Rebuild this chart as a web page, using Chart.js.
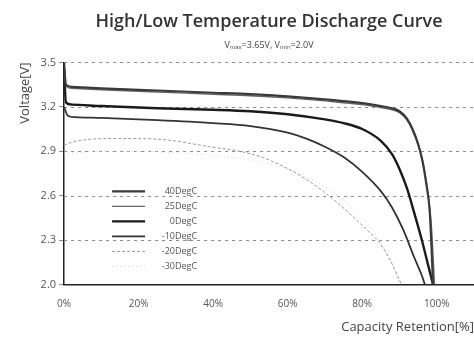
<!DOCTYPE html>
<html>
<head>
<meta charset="utf-8">
<script src="https://cdn.jsdelivr.net/npm/chart.js@4"></script>
<style>
  html, body { margin: 0; padding: 0; background: #fff; }
  #wrap { width: 474px; height: 341px; }
</style>
</head>
<body>
<div id="wrap"><canvas id="grafico"></canvas></div>
<script>
// capacity retention [%] / voltage [V]
const cap40 = [0, 0.5, 2, 10, 25, 40, 50, 60, 70, 80, 85, 88, 90, 92, 93.5, 95, 96.2, 97.2, 98.1, 98.6, 99];
const volt40 = [3.5, 3.35, 3.335, 3.325, 3.31, 3.295, 3.285, 3.27, 3.25, 3.225, 3.205, 3.19, 3.17, 3.12, 3.05, 2.95, 2.83, 2.68, 2.5, 2.25, 2.0];

const cap25 = [0, 0.5, 2, 10, 25, 40, 50, 60, 70, 80, 85, 88, 90, 92, 93.5, 95, 96.5, 97.6, 98.5, 99, 99.4];
const volt25 = [3.48, 3.34, 3.325, 3.315, 3.3, 3.285, 3.275, 3.26, 3.24, 3.215, 3.195, 3.18, 3.16, 3.11, 3.04, 2.94, 2.8, 2.62, 2.42, 2.2, 2.0];

const cap0 = [0, 0.5, 2, 10, 25, 40, 50, 60, 70, 75, 80, 85, 88, 90, 92, 94, 96, 97.5, 98.5, 99];
const volt0 = [3.45, 3.23, 3.215, 3.205, 3.19, 3.18, 3.17, 3.15, 3.115, 3.09, 3.05, 2.97, 2.88, 2.78, 2.65, 2.48, 2.3, 2.15, 2.05, 2.0];

const capM10 = [0, 1, 3, 10, 25, 40, 50, 60, 65, 70, 75, 80, 85, 88, 91, 94, 96, 96.8];
const voltM10 = [3.2, 3.14, 3.13, 3.125, 3.11, 3.09, 3.07, 3.025, 2.985, 2.93, 2.86, 2.76, 2.63, 2.52, 2.37, 2.18, 2.06, 2.0];

const capM20 = [0, 2, 5, 12, 20, 28, 39, 47, 53, 58.6, 65, 71, 77, 82, 85, 88, 90.5];
const voltM20 = [2.94, 2.96, 2.975, 2.985, 2.985, 2.975, 2.93, 2.9, 2.86, 2.8, 2.71, 2.6, 2.47, 2.35, 2.27, 2.14, 2.0];

const capM30 = [0, 10, 25, 40, 50, 60, 70, 78, 84, 88.5, 90];
const voltM30 = [2.88, 2.9, 2.895, 2.87, 2.84, 2.78, 2.66, 2.5, 2.32, 2.1, 2.0];

const seriesLabels = ['40DegC', '25DegC', '0DegC', '-10DegC', '-20DegC', '-30DegC'];
const voltTicks = [2.0, 2.3, 2.6, 2.9, 3.2, 3.5];
const capTicks = [0, 20, 40, 60, 80, 100];

const toPoints = (xs, ys) => xs.map((x, i) => ({ x: x, y: ys[i] }));

const fontFam = "'Open Sans', 'Noto Sans', sans-serif";

// dashed horizontal grid at each voltage tick
const dashedGrid = {
  id: 'dashedGrid',
  beforeDatasetsDraw(chart) {
    const c = chart.ctx;
    const a = chart.chartArea;
    const yScale = chart.scales.y;
    c.save();
    c.strokeStyle = '#8a8a8a';
    c.lineWidth = 1;
    c.setLineDash([3, 4]);
    voltTicks.forEach(v => {
      if (v === yScale.min) return;
      const y = Math.round(yScale.getPixelForValue(v)) + 0.5;
      c.beginPath();
      c.moveTo(a.left, y);
      c.lineTo(a.right, y);
      c.stroke();
    });
    c.restore();
  }
};

// legend drawn inside the plot, like the original
const innerLegend = {
  id: 'innerLegend',
  afterDraw(chart) {
    const c = chart.ctx;
    const a = chart.chartArea;
    const x0 = a.left + 48;
    const y0 = a.top + 129;
    c.save();
    c.font = "9px " + fontFam;
    c.textAlign = 'right';
    c.textBaseline = 'middle';
    chart.data.datasets.forEach((ds, i) => {
      const y = y0 + i * 15;
      c.beginPath();
      c.strokeStyle = ds.borderColor;
      c.lineWidth = ds.borderWidth;
      c.setLineDash(ds.borderDash || []);
      c.moveTo(x0, y);
      c.lineTo(x0 + 33, y);
      c.stroke();
      c.setLineDash([]);
      c.fillStyle = '#555';
      c.fillText(ds.label, x0 + 85, y);
    });
    c.restore();
  }
};

const ctxGrafico = document.getElementById('grafico').getContext('2d');
new Chart(ctxGrafico, {
  type: 'line',
  data: {
    datasets: [
      { label: seriesLabels[0], data: toPoints(cap40, volt40), borderColor: '#3a3a3a', borderWidth: 2.2 },
      { label: seriesLabels[1], data: toPoints(cap25, volt25), borderColor: '#666', borderWidth: 1.4 },
      { label: seriesLabels[2], data: toPoints(cap0, volt0), borderColor: '#1a1a1a', borderWidth: 2.4 },
      { label: seriesLabels[3], data: toPoints(capM10, voltM10), borderColor: '#333', borderWidth: 1.8 },
      { label: seriesLabels[4], data: toPoints(capM20, voltM20), borderColor: '#999', borderWidth: 1, borderDash: [3, 2] },
      { label: seriesLabels[5], data: toPoints(capM30, voltM30), borderColor: '#d0d0d0', borderWidth: 1, borderDash: [1, 3] }
    ]
  },
  options: {
    responsive: true,
    maintainAspectRatio: false,
    animation: false,
    layout: { padding: { left: 17, right: 0, top: 0, bottom: 6 } },
    elements: {
      point: { radius: 0 },
      line: { cubicInterpolationMode: 'monotone' }
    },
    plugins: {
      legend: { display: false },
      tooltip: { enabled: false },
      title: {
        display: true,
        fullSize: false,
        text: 'High/Low Temperature Discharge Curve',
        color: '#333',
        font: { family: fontFam, size: 18, weight: '600' },
        padding: { top: 11, bottom: 7 }
      },
      subtitle: {
        display: true,
        fullSize: false,
        text: 'Vₘₐₓ=3.65V, Vₘᵢₙ=2.0V',
        color: '#444',
        font: { family: fontFam, size: 9 },
        padding: { top: 0, bottom: 12 }
      }
    },
    scales: {
      x: {
        type: 'linear',
        min: 0,
        max: 110,
        afterBuildTicks: (axis) => { axis.ticks = capTicks.map(v => ({ value: v })); },
        ticks: {
          callback: (v) => v + '%',
          color: '#555',
          font: { family: fontFam, size: 10 },
          maxRotation: 0,
          padding: 6
        },
        grid: { display: false },
        border: { display: true, color: '#222', width: 1.5 },
        title: {
          display: true,
          align: 'end',
          text: 'Capacity Retention[%]',
          color: '#444',
          font: { family: fontFam, size: 13 },
          padding: { top: 3, bottom: 0 }
        }
      },
      y: {
        type: 'linear',
        min: 2.0,
        max: 3.5,
        afterBuildTicks: (axis) => { axis.ticks = voltTicks.map(v => ({ value: v })); },
        ticks: {
          callback: (v) => v.toFixed(1),
          color: '#555',
          font: { family: fontFam, size: 11 },
          padding: 3
        },
        grid: {
          color: 'rgba(0,0,0,0)',
          drawOnChartArea: false,
          tickLength: 5,
          tickColor: '#888'
        },
        border: { display: true, color: '#222', width: 1.5 },
        title: {
          display: true,
          align: 'end',
          text: 'Voltage[V]',
          color: '#444',
          font: { family: fontFam, size: 13 },
          padding: { top: 0, bottom: 5 }
        }
      }
    }
  },
  plugins: [dashedGrid, innerLegend]
});
</script>
</body>
</html>
